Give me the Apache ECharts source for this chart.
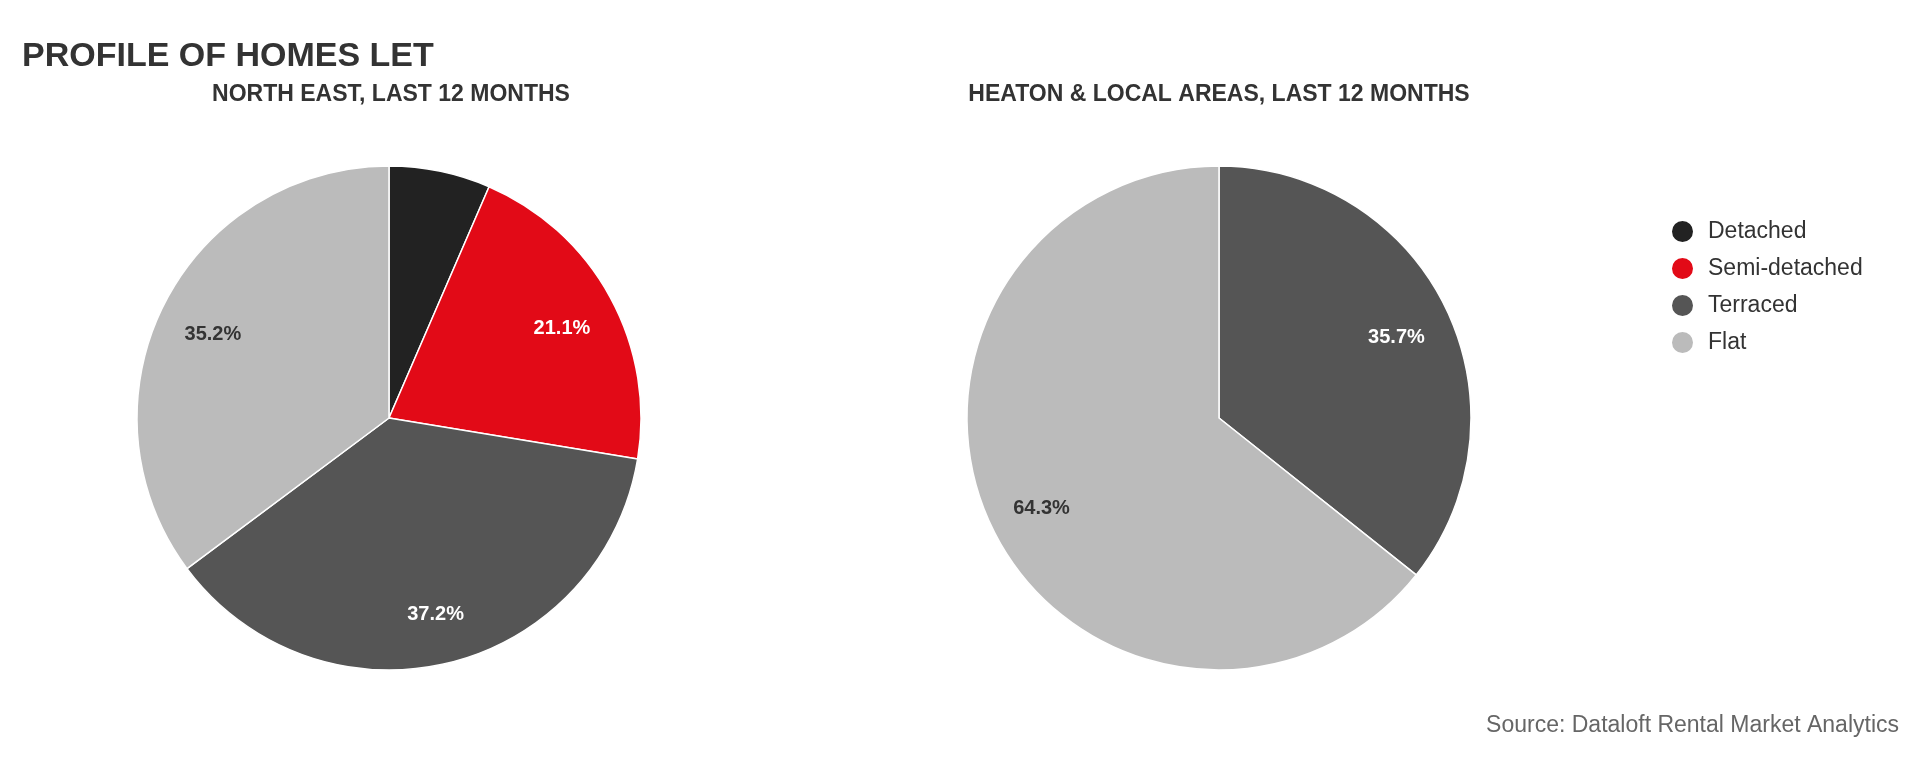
<!DOCTYPE html>
<html>
<head>
<meta charset="utf-8">
<script src="https://cdn.jsdelivr.net/npm/echarts@6/dist/echarts.min.js"></script>
<style>
html,body{margin:0;padding:0;background:#fff;}
#chart{width:1920px;height:768px;}
</style>
</head>
<body>
<div id="chart"></div>
<script>
const categories = ['Detached', 'Semi-detached', 'Terraced', 'Flat'];
const northEastValues = [6.5, 21.1, 37.2, 35.2];
const heatonValues = [0, 0, 35.7, 64.3];
const chartTitle = 'PROFILE OF HOMES LET';
const pieTitles = ['NORTH EAST, LAST 12 MONTHS', 'HEATON & LOCAL AREAS, LAST 12 MONTHS'];
const sourceText = 'Source: Dataloft Rental Market Analytics';

const colors = ['#222222', '#e20a17', '#555555', '#bbbbbb'];
const labelColors = ['#ffffff', '#ffffff', '#ffffff', '#333333'];
const FONT = '"Liberation Sans", Arial, Helvetica, sans-serif';

const centers = [[389, 418], [1219, 418]];
const titleCenters = [386, 1214];
const R = 252;

function toData(values) {
  return categories.map((name, i) => ({ name, value: values[i] }));
}
function toLabelData(values) {
  return categories.map((name, i) => ({
    name, value: values[i],
    label: { color: labelColors[i] }
  }));
}

const allValues = [northEastValues, heatonValues];
const series = [];
allValues.forEach((vals, k) => {
  series.push({
    type: 'pie',
    center: centers[k],
    radius: [0, R],
    startAngle: 90,
    clockwise: true,
    avoidLabelOverlap: false,
    silent: true,
    label: { show: false },
    labelLine: { show: false },
    itemStyle: { borderColor: '#ffffff', borderWidth: 1.5 },
    emphasis: { disabled: true },
    data: toData(vals)
  });
  series.push({
    type: 'pie',
    center: centers[k],
    radius: [136, R],
    startAngle: 90,
    clockwise: true,
    avoidLabelOverlap: false,
    silent: true,
    minShowLabelAngle: 30,
    itemStyle: { color: 'rgba(0,0,0,0)', borderWidth: 0 },
    label: {
      show: true,
      position: 'inside',
      offset: [0, 5],
      fontFamily: FONT,
      fontSize: 20,
      fontWeight: 'bold',
      formatter: p => p.value > 0 ? p.value.toFixed(1) + '%' : ''
    },
    labelLine: { show: false },
    emphasis: { disabled: true },
    legendHoverLink: false,
    data: toLabelData(vals)
  });
});

const chart = echarts.init(document.getElementById('chart'), null, { renderer: 'canvas' });
chart.setOption({
  backgroundColor: '#ffffff',
  animation: false,
  color: colors,
  title: [
    { text: chartTitle, left: 17, top: 35,
      textStyle: { fontFamily: FONT, fontSize: 34, fontWeight: 'bold', color: '#333333' } },
    { text: pieTitles[0], left: titleCenters[0], top: 78, textAlign: 'center',
      textStyle: { fontFamily: FONT, fontSize: 23, fontWeight: 'bold', color: '#333333' } },
    { text: pieTitles[1], left: titleCenters[1], top: 78, textAlign: 'center',
      textStyle: { fontFamily: FONT, fontSize: 23, fontWeight: 'bold', color: '#333333' } },
    { text: sourceText, right: 16, top: 709,
      textStyle: { fontFamily: FONT, fontSize: 23, fontWeight: 'normal', color: '#666666' } }
  ],
  legend: {
    orient: 'vertical',
    left: 1670,
    top: 219,
    padding: 0,
    icon: 'circle',
    itemWidth: 23,
    itemHeight: 23,
    itemGap: 12,
    selectedMode: false,
    data: categories,
    textStyle: { fontFamily: FONT, fontSize: 23, color: '#333333', padding: [0, 0, 0, 9] }
  },
  series: series
});
</script>
</body>
</html>
